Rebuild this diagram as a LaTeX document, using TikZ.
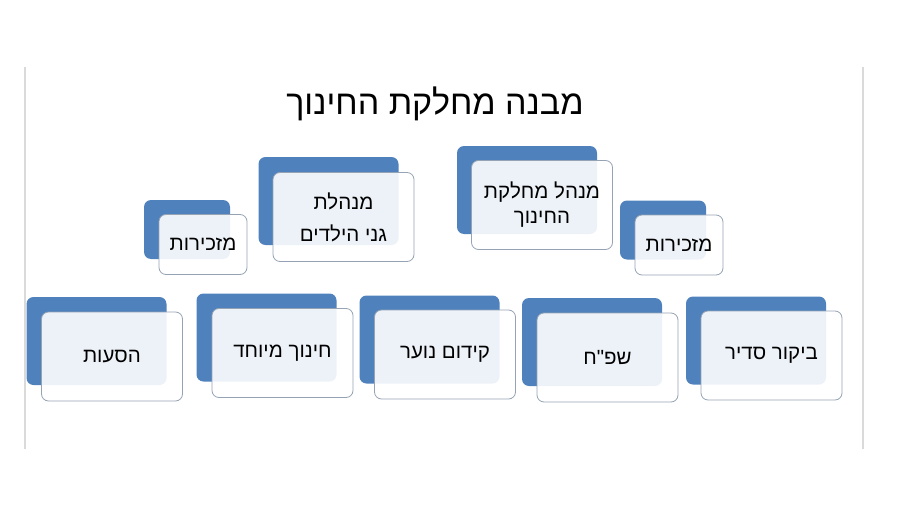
\documentclass[tikz,border=0pt]{standalone}
\usepackage{fontspec}
\newfontfamily\hebfont[Script=Hebrew]{Liberation Sans}
\TeXXeTstate=1
\usepackage{tikz}
\usetikzlibrary{positioning}
\definecolor{boxblue}{HTML}{4F81BD}
\definecolor{boxline}{HTML}{95A3B4}
\definecolor{slideline}{HTML}{DADADA}
\tikzset{
  backbox/.style={fill=boxblue, rounded corners=7pt, minimum width=140pt, minimum height=88pt, inner sep=0pt},
  frontbox/.style={draw=boxline, line width=0.8pt, fill=white, fill opacity=0.9, text opacity=1, rounded corners=7pt, minimum width=141pt, minimum height=89pt, inner sep=0pt, align=center, font=\hebfont\fontsize{20.5}{25}\selectfont},
  smallback/.style={backbox, minimum width=86pt, minimum height=59pt},
  smallfront/.style={frontbox, minimum width=88pt, minimum height=60pt}
}

\begin{document}
\begin{tikzpicture}[x=1pt, y=-1pt]
\useasboundingbox (0,0) rectangle (900,506);
\draw[slideline, line width=1.6pt] (25,67) -- (25,449);
\draw[slideline, line width=1.6pt] (863,67) -- (863,449);
\node[font=\hebfont\fontsize{34}{40}\selectfont] (title) at (435,104) {\beginR מבנה מחלקת החינוך\endR};

\node[backbox] (bhead) at (527,190) {};
\node[frontbox] (head) at ([shift={(15pt,-15pt)}]bhead) {\beginR מנהל מחלקת\endR\\\beginR החינוך\endR};
\node[backbox] (bgan) at (328.5,201) {};
\node[frontbox, font=\hebfont\fontsize{20.5}{32}\selectfont] (gan) at ([shift={(15pt,-16pt)}]bgan) {\beginR מנהלת\endR\\\beginR גני הילדים\endR};
\node[smallback] (bsecl) at (187,229.5) {};
\node[smallfront] (secl) at ([shift={(16pt,-15pt)}]bsecl) {\beginR מזכירות\endR};
\node[smallback] (bsecr) at (663,230) {};
\node[smallfront] (secr) at ([shift={(16pt,-15pt)}]bsecr) {\beginR מזכירות\endR};

\node[backbox] (bride) at (96.5,341) {};
\node[frontbox] (ride) at ([shift={(15.5pt,-15.5pt)}]bride) {\beginR הסעות\endR};
\node[backbox] (bspec) at (266.5,337.5) {};
\node[frontbox] (spec) at ([shift={(16pt,-15.5pt)}]bspec) {\beginR חינוך מיוחד\endR};
\node[backbox] (byouth) at (429.5,339.5) {};
\node[frontbox] (youth) at ([shift={(15.5pt,-15pt)}]byouth) {\beginR קידום נוער\endR};
\node[backbox] (bpsy) at (592,342) {};
\node[frontbox] (psy) at ([shift={(15.5pt,-15.5pt)}]bpsy) {\beginR שפ"ח\endR};
\node[backbox] (bvisit) at (756,340.5) {};
\node[frontbox] (visit) at ([shift={(15.5pt,-15pt)}]bvisit) {\beginR ביקור סדיר\endR};
\end{tikzpicture}
\end{document}
